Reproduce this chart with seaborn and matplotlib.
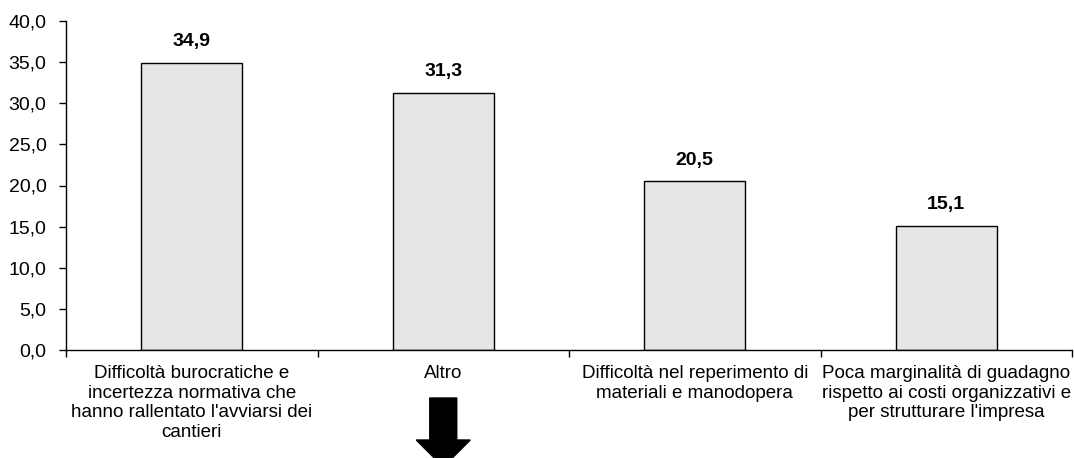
import matplotlib
matplotlib.use("Agg")
import matplotlib.pyplot as plt
import seaborn as sns
import pandas as pd
from matplotlib.patches import Polygon

categories = [
    "Difficoltà burocratiche e\nincertezza normativa che\nhanno rallentato l'avviarsi dei\ncantieri",
    "Altro",
    "Difficoltà nel reperimento di\nmateriali e manodopera",
    "Poca marginalità di guadagno\nrispetto ai costi organizzativi e\nper strutturare l'impresa",
]
values = [34.9, 31.3, 20.5, 15.1]
yticks = [0, 5, 10, 15, 20, 25, 30, 35, 40]

sns.set_style("white")
plt.rcParams["font.family"] = ["Liberation Sans", "DejaVu Sans"]
plt.rcParams["font.size"] = 14
plt.rcParams["text.color"] = "black"

W, H = 1074, 458
fig = plt.figure(figsize=(W / 100, H / 100), dpi=100)
ax = fig.add_axes([66 / W, (H - 350) / H, (1072 - 66) / W, (350 - 21) / H])

df = pd.DataFrame({"cat": categories, "val": values})
sns.barplot(data=df, x="cat", y="val", hue="cat", palette=["#e6e6e6"] * 4,
            legend=False, width=0.4, edgecolor="black", linewidth=1, ax=ax,
            saturation=1)

ax.set_xlim(-0.5, len(categories) - 0.5)
ax.set_ylim(0, 40)
ax.set_yticks(yticks)
ax.set_yticklabels([f"{v:.1f}".replace(".", ",") for v in yticks], fontsize=14)
ax.set_xlabel("")
ax.set_ylabel("")
ax.set_xticks(range(len(categories)))
ax.set_xticklabels(categories, fontsize=13.5, linespacing=1.2)
ax.set_xticks([i - 0.5 for i in range(len(categories) + 1)], minor=True)
ax.tick_params(axis="x", which="major", bottom=True, length=0, pad=11)
ax.tick_params(axis="x", which="minor", bottom=True, length=5, width=1,
               direction="out", color="black")
ax.tick_params(axis="y", which="major", left=True, length=5, width=1,
               direction="out", color="black", pad=9)
ax.tick_params(axis="both", labelcolor="black")
for s in ["top", "right"]:
    ax.spines[s].set_visible(False)
for s in ["left", "bottom"]:
    ax.spines[s].set_color("black")
    ax.spines[s].set_linewidth(1)

for i, v in enumerate(values):
    ax.annotate(f"{v:.1f}".replace(".", ","), xy=(i, v), xytext=(0, 9),
                textcoords="offset points", ha="center", va="bottom",
                fontsize=14, fontweight="bold", color="black")

# Down arrow under "Altro"
fig.canvas.draw()
xc = ax.transData.transform((1, 0))[0]
def fy(py):
    return H - py
pts = [(xc - 13.5, fy(398)), (xc + 13.5, fy(398)), (xc + 13.5, fy(440)),
       (xc + 27, fy(440)), (xc, fy(467)), (xc - 27, fy(440)), (xc - 13.5, fy(440))]
pts = [(x / W, y / H) for x, y in pts]
fig.patches.append(Polygon(pts, closed=True, facecolor="black", edgecolor="black",
                           transform=fig.transFigure, figure=fig))

fig.savefig("out.png", dpi=100)
